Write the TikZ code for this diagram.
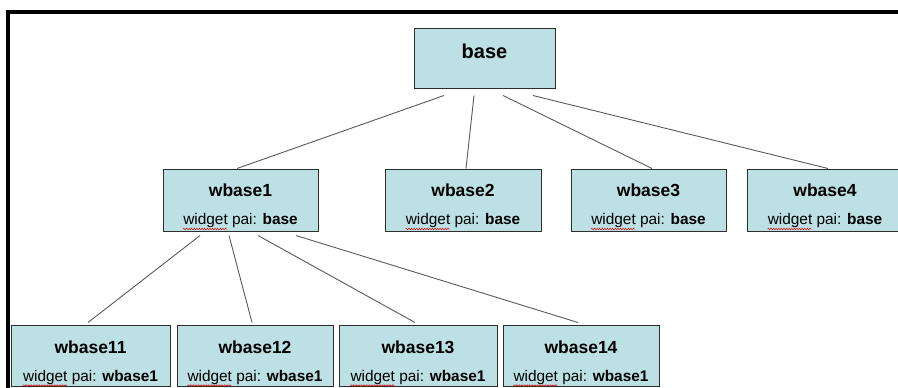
\documentclass[tikz,border=0pt]{standalone}
\usepackage{fontspec}
\setmainfont{Liberation Sans}
\usetikzlibrary{calc,decorations.pathmorphing}
\definecolor{boxfill}{RGB}{188,224,227}
\definecolor{boxline}{RGB}{45,45,45}
\definecolor{connline}{RGB}{90,90,90}
\tikzset{
  box/.style={draw=boxline, fill=boxfill, line width=1pt, inner sep=0pt},
  ttl/.style={font=\fontsize{17.5}{20}\selectfont\bfseries, inner sep=0pt, anchor=base},
  sub/.style={font=\fontsize{15.4}{18}\selectfont, inner sep=0pt, anchor=base},
  conn/.style={draw=connline, line width=0.9pt},
  frame/.style={line width=4pt, draw=black},
  spell/.style={draw=red!85!black, line width=0.5pt, decorate, decoration={snake, segment length=2.6pt, amplitude=0.7pt}}
}
% name, centre x, top y, width, height, title, parent
\newcommand\wbox[7]{%
  \node[box, minimum width=#4pt, minimum height=#5pt] (#1) at (#2, #3+#5/2) {};
  \node[ttl] (#1t) at (#2, #3+27.5) {#6};
  \node[sub] (#1s) at (#2, #3+55.5) {widget pai: \textbf{#7}};
  \draw[spell] ([yshift=-4.5pt]#1s.base west) -- ++(44,0);
}
\begin{document}
\begin{tikzpicture}[x=1pt, y=-1pt]
\useasboundingbox (0,0) rectangle (898,388);
\fill[white] (0,0) rectangle (898,388);
% frame
\draw[frame] (8,392) -- (8,12) -- (902,12);
% root
\node[box, minimum width=141pt, minimum height=60pt] (base) at (484.5,58) {};
\node[ttl, font=\fontsize{20}{22}\selectfont\bfseries] (baset) at (484.5,58) {base};
% first row
\wbox{w1}{240.5}{169}{155}{62}{wbase1}{base}
\wbox{w2}{463}{169}{156}{62}{wbase2}{base}
\wbox{w3}{648.5}{169}{155}{62}{wbase3}{base}
\wbox{w4}{825}{169}{156}{62}{wbase4}{base}
% second row
\wbox{w11}{90.5}{325.5}{159}{61}{wbase11}{wbase1}
\wbox{w12}{255}{325.5}{156}{61}{wbase12}{wbase1}
\wbox{w13}{418}{325.5}{158}{61}{wbase13}{wbase1}
\wbox{w14}{581}{325.5}{156}{61}{wbase14}{wbase1}
% connectors base -> row 1
\draw[conn] ([xshift=-40.5pt,yshift=-7pt]base.south) -- ([xshift=-3.5pt]w1.north);
\draw[conn] ([xshift=-10.5pt,yshift=-7pt]base.south) -- ([xshift=3pt]w2.north);
\draw[conn] ([xshift=18.5pt,yshift=-7pt]base.south) -- ([xshift=3.5pt]w3.north);
\draw[conn] ([xshift=48.5pt,yshift=-7pt]base.south) -- ([xshift=3pt]w4.north);
% connectors wbase1 -> row 2
\draw[conn] ([xshift=-40.5pt,yshift=-4pt]w1.south) -- ([xshift=-2.5pt,yshift=2.5pt]w11.north);
\draw[conn] ([xshift=-11.5pt,yshift=-4pt]w1.south) -- ([xshift=-3pt,yshift=2.5pt]w12.north);
\draw[conn] ([xshift=17.5pt,yshift=-4pt]w1.south) -- ([xshift=-3pt,yshift=2.5pt]w13.north);
\draw[conn] ([xshift=55.5pt,yshift=-4pt]w1.south) -- ([xshift=-3pt,yshift=2.5pt]w14.north);
\end{tikzpicture}
\end{document}
